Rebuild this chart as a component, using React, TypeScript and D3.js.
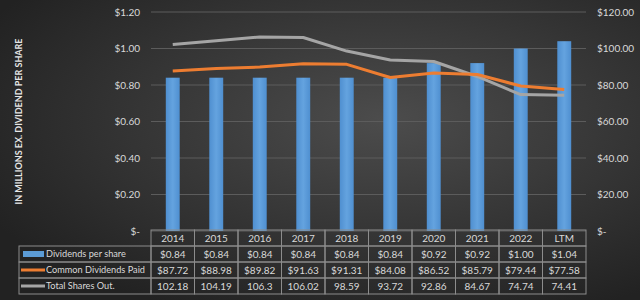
import React from "react";
import * as d3 from "d3";

const years = ["2014", "2015", "2016", "2017", "2018", "2019", "2020", "2021", "2022", "LTM"];
const dividendsPerShare = [0.84, 0.84, 0.84, 0.84, 0.84, 0.84, 0.92, 0.92, 1.0, 1.04];
const commonDividendsPaid = [87.72, 88.98, 89.82, 91.63, 91.31, 84.08, 86.52, 85.79, 79.44, 77.58];
const totalSharesOut = [102.18, 104.19, 106.3, 106.02, 98.59, 93.72, 92.86, 84.67, 74.74, 74.41];
const leftTicks = [0, 0.2, 0.4, 0.6, 0.8, 1.0, 1.2];
const rightTicks = [0, 20, 40, 60, 80, 100, 120];

const W = 640;
const H = 300;
const plot = { left: 151, right: 586, top: 12, bottom: 231 };
const FONT = "Lato, 'Open Sans', sans-serif";
const TXT = "#d9d9d9";

const App = () => {
  const x = d3.scaleBand().domain(years).range([plot.left, plot.right]);
  const yL = d3.scaleLinear().domain([0, 1.2]).range([plot.bottom, plot.top]);
  const yR = d3.scaleLinear().domain([0, 120]).range([plot.bottom, plot.top]);
  const cx = (d: string) => (x(d) as number) + x.bandwidth() / 2;
  const barW = x.bandwidth() * 0.32;

  const line = d3
    .line<number>()
    .x((_, i) => cx(years[i]))
    .y((v) => yR(v));

  const fmt = (v: number) => (v === 0 ? "$-" : d3.format("$.2f")(v));

  // table rows
  const rowH = 16;
  const tTop = 230;
  const legendLeft = 19;
  const rows = [
    { name: "Dividends per share", color: "#5b9bd5", kind: "bar", vals: dividendsPerShare.map((v) => d3.format("$.2f")(v)) },
    { name: "Common Dividends Paid", color: "#ed7d31", kind: "line", vals: commonDividendsPaid.map((v) => d3.format("$.2f")(v)) },
    { name: "Total Shares Out.", color: "#a5a5a5", kind: "line", vals: totalSharesOut.map((v) => String(v)) },
  ];

  return (
    <svg width={W} height={H} style={{ display: "block", position: "absolute", left: 0, top: 0 }} fontFamily={FONT}>
      <defs>
        <radialGradient id="bg" cx="60%" cy="40%" r="70%">
          <stop offset="0%" stopColor="#4c4c4c" />
          <stop offset="100%" stopColor="#222222" />
        </radialGradient>
        <linearGradient id="barg" x1="0" x2="1">
          <stop offset="0%" stopColor="#4f8fd0" />
          <stop offset="50%" stopColor="#64a3df" />
          <stop offset="100%" stopColor="#4f8fd0" />
        </linearGradient>
      </defs>
      <rect width={W} height={H} fill="url(#bg)" />

      {/* gridlines */}
      {leftTicks.map((t) => (
        <line key={t} x1={plot.left} x2={plot.right} y1={yL(t)} y2={yL(t)} stroke="#5c5c5c" strokeWidth={1} />
      ))}

      {/* left axis labels */}
      {leftTicks.map((t) => (
        <text key={t} x={140} y={yL(t)} dy="0.35em" textAnchor="end" fontSize={10} fill={TXT}>
          {fmt(t)}
        </text>
      ))}
      {/* right axis labels */}
      {rightTicks.map((t) => (
        <text key={t} x={597} y={yR(t)} dy="0.35em" textAnchor="start" fontSize={10} fill={TXT}>
          {fmt(t)}
        </text>
      ))}

      <text
        transform={`translate(22,${(plot.top + plot.bottom) / 2}) rotate(-90)`}
        textAnchor="middle"
        fontSize={9}
        fontWeight="bold"
        fill="#e6e6e6"
      >
        IN MILLIONS EX. DIVIDEND PER SHARE
      </text>

      {/* bars */}
      {years.map((yr, i) => (
        <rect
          key={yr}
          x={cx(yr) - barW / 2}
          y={yL(dividendsPerShare[i])}
          width={barW}
          height={plot.bottom - yL(dividendsPerShare[i])}
          fill="url(#barg)"
        />
      ))}

      {/* lines */}
      <path d={line(totalSharesOut) || ""} fill="none" stroke="#a5a5a5" strokeWidth={3} strokeLinejoin="round" />
      <path d={line(commonDividendsPaid) || ""} fill="none" stroke="#ed7d31" strokeWidth={3} strokeLinejoin="round" />

      {/* data table */}
      <g>
        {years.map((yr) => (
          <g key={yr}>
            <rect x={x(yr)} y={tTop} width={x.bandwidth()} height={rowH} fill="none" stroke="#8c8c8c" strokeWidth={1} />
            <text x={cx(yr)} y={tTop + rowH / 2} dy="0.35em" textAnchor="middle" fontSize={10} fill={TXT}>
              {yr}
            </text>
          </g>
        ))}
        {rows.map((r, ri) => {
          const ry = tTop + rowH * (ri + 1);
          return (
            <g key={r.name}>
              <rect x={legendLeft} y={ry} width={plot.left - legendLeft} height={rowH} fill="none" stroke="#8c8c8c" strokeWidth={1} />
              {r.kind === "bar" ? (
                <rect x={legendLeft + 4} y={ry + rowH / 2 - 3} width={21} height={6} fill="#5b9bd5" />
              ) : (
                <line x1={legendLeft + 2} x2={legendLeft + 26} y1={ry + rowH / 2} y2={ry + rowH / 2} stroke={r.color} strokeWidth={3} />
              )}
              <text x={legendLeft + 27} y={ry + rowH / 2} dy="0.35em" fontSize={9.2} fill={TXT}>
                {r.name}
              </text>
              {years.map((yr, i) => (
                <g key={yr}>
                  <rect x={x(yr)} y={ry} width={x.bandwidth()} height={rowH} fill="none" stroke="#8c8c8c" strokeWidth={1} />
                  <text x={cx(yr)} y={ry + rowH / 2} dy="0.35em" textAnchor="middle" fontSize={10} fill={TXT}>
                    {r.vals[i]}
                  </text>
                </g>
              ))}
            </g>
          );
        })}
      </g>
    </svg>
  );
};

export default App;
